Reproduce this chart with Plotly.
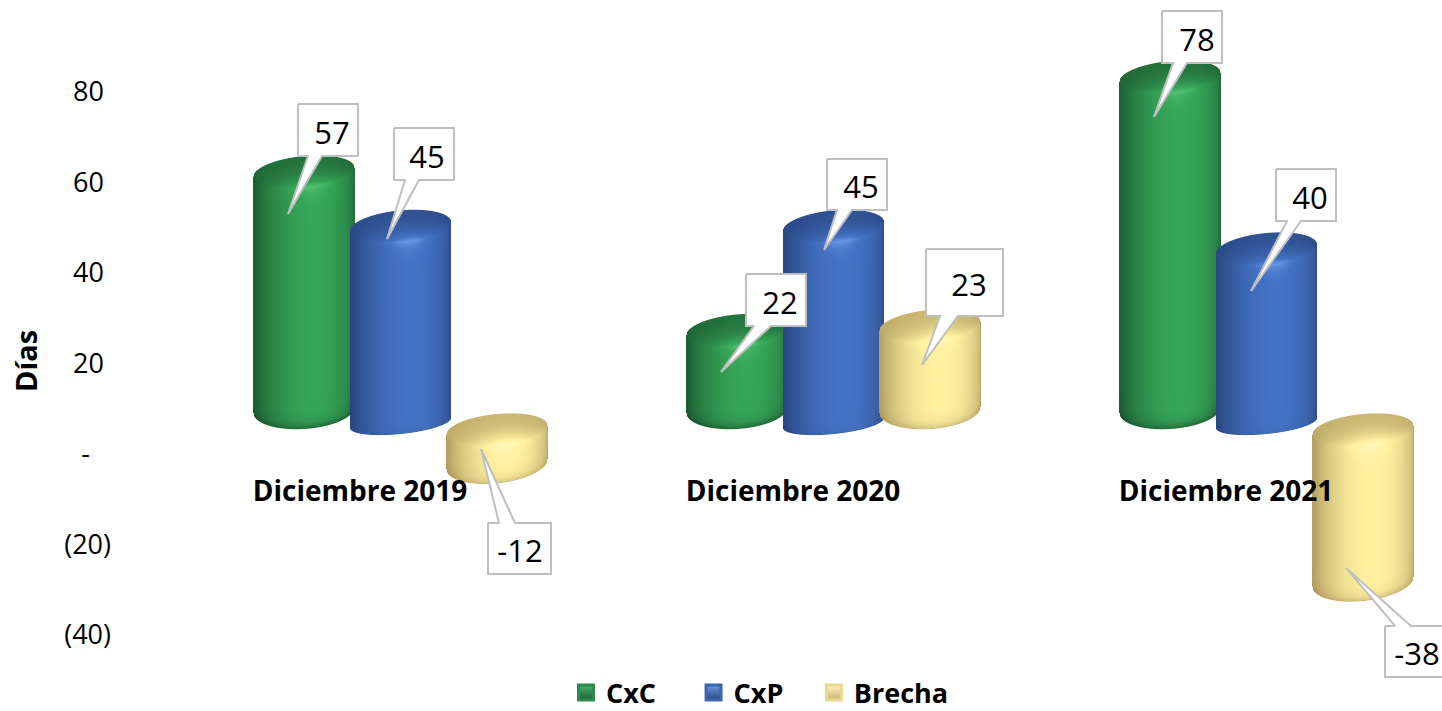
import numpy as np
import plotly.graph_objects as go

# ---- data ----
CATEGORIES = ["Diciembre 2019", "Diciembre 2020", "Diciembre 2021"]
CXC = [57, 22, 78]
CXP = [45, 45, 40]
BRECHA = [-12, 23, -38]
SERIES_NAMES = ["CxC", "CxP", "Brecha"]
Y_TICKS = [80, 60, 40, 20, 0, -20, -40]
Y_TICK_LABELS = ["80\u00a0", "60\u00a0", "40\u00a0", "20\u00a0", "-\u00a0\u00a0\u00a0", "(20)", "(40)"]

# ---- scale of the chart ----
W, H = 1442, 711
PX_X = 433.0      # pixels per category
PX_Y = 4.525      # pixels per value unit
X0_PX = 400.5     # pixel of category 0 centre
Y0_PX = 454.0     # pixel of value 0
LEFT = 112


def xd(px):
    return (np.asarray(px, dtype=float) - X0_PX) / PX_X


def yd(py):
    return (Y0_PX - np.asarray(py, dtype=float)) / PX_Y


# ---- styling ----
FONT = "Open Sans"
SERIES_OFFSET = [-96.5, 0.0, 96.5]
RADIUS = 50.5
STOPS = [
    [(18, 66, 36), (54, 165, 88), (96, 205, 128)],
    [(28, 52, 100), (68, 114, 196), (118, 166, 238)],
    [(150, 128, 72), (255, 241, 160), (255, 248, 196)],
]
BOTTOM_DARK = [0.62, 0.08, 0.42]
TOP_PLANE = 430.0
POS_BASE = [(410.0, 19.0, 3.0), (423.0, 11.0, 5.0), (410.0, 19.0, 3.0)]
NEG_BASE = 410.0
# spaces that set the gap after each legend entry
LEGEND_PAD = ["\u00a0\u00a0\u00a0\u00a0\u2009", "\u00a0\u00a0\u00a0\u2009", ""]


def colorscale(st):
    zmax = 2.3
    dark, body, hi = st
    rgb = lambda c: "rgb(%d,%d,%d)" % c
    edge = tuple(int(a * 0.55 + b * 0.45) for a, b in zip(dark, body))
    return [
        [0.0, "rgba(%d,%d,%d,0)" % edge],
        [1.0 / zmax, "rgba(%d,%d,%d,1)" % edge],
        [1.0 / zmax + 1e-6, rgb(dark)],
        [2.0 / zmax, rgb(body)],
        [1.0, rgb(hi)],
    ]


def shade_u(u):
    th = np.arcsin(np.clip(u, -1, 1)) - np.arcsin(0.2)
    return 0.3 + 0.7 * np.clip(np.cos(th), 0, 1) ** 1.4


def cylinder(cx, y_top, y_bot, b_top, tilt_top, b_bot, tilt_bot, bot_dark):
    x_px = np.arange(np.floor(cx - RADIUS), np.ceil(cx + RADIUS)) + 0.5
    y_px = np.arange(np.floor(y_top - b_top - 8), np.ceil(y_bot + b_bot + 8)) + 0.5
    X, Y = np.meshgrid(x_px, y_px)
    u = np.clip((X - cx) / RADIUS, -1, 1)
    rt = np.sqrt(1 - u ** 2)
    inside = np.abs((X - cx) / RADIUS) <= 1
    top_mid = y_top - tilt_top * u
    top_back = top_mid - b_top * rt
    top_front = top_mid + b_top * rt
    bot_edge = y_bot - tilt_bot * u + b_bot * rt
    cover = np.clip(np.minimum(Y + 0.5 - top_back, bot_edge - (Y - 0.5)), 0, 1)
    h = shade_u(u)
    edge_val = h * (1.0 + 0.22 * np.exp(-((u - 0.12) / 0.45) ** 2))
    t = np.clip((Y - top_mid) / np.maximum(b_top * rt, 0.5), -1, 1)
    back = 0.5 * (0.65 + 0.35 * h)
    face = back + (edge_val - back) * ((t + 1) / 2) ** 2.2
    below = h + (edge_val - h) * np.exp(-np.clip(Y - top_front, 0, None) / 7.0)
    s = np.where(Y < top_front, face, below)
    s = s * (1 - bot_dark * np.exp(-np.clip(bot_edge - Y, 0, None) / 5.0))
    z = np.where(cover >= 1, 1.0 + np.clip(s, 0, 1.3), cover)
    z = np.where(inside & (cover > 0), z, np.nan)
    return x_px, y_px, z


fig = go.Figure()
VALUES = [CXC, CXP, BRECHA]

anchors = {}
for si, vals in enumerate(VALUES):
    for ci, v in enumerate(vals):
        cx = X0_PX + ci * PX_X + SERIES_OFFSET[si]
        if v >= 0:
            y_top = TOP_PLANE - v * PX_Y
            y_bot, b_bot, tilt_bot = POS_BASE[si]
            end = y_top
        else:
            y_top = TOP_PLANE
            y_bot = NEG_BASE - v * PX_Y
            b_bot, tilt_bot = 19.0, 5.0
            end = y_bot
        anchors[(si, ci)] = (cx, end)
        xp, yp, z = cylinder(cx, y_top, y_bot, 16.0, 4.5, b_bot, tilt_bot, BOTTOM_DARK[si])
        fig.add_trace(go.Heatmap(
            x=xd(xp), y=yd(yp), z=z, zmin=0, zmax=2.3, colorscale=colorscale(STOPS[si]),
            showscale=False, hoverinfo="skip", zsmooth=False, name=SERIES_NAMES[si],
        ))

# callout geometry: (tip dx, tip dy, box dx, box dy, box w, box h, base l, base r, text dx)
# all offsets in pixels, relative to the end of the cylinder
CALLOUTS = {
    (0, 0): (-16, 41.9, -6, -68, 60, 52, 10, 24, 34),
    (1, 0): (-13.5, 12.6, -6.5, -98.4, 60, 52, 11, 25, 33),
    (2, 0): (-16, -15.3, -9, 58.7, 63, 51, 11, 27, 32),
    (0, 1): (-16, 41.5, 9, -56.5, 60, 52, 8, 25, 34),
    (1, 1): (-9.5, 23.6, -6.5, -67.4, 60, 51, 10, 25, 34),
    (2, 1): (-8, 39.1, -4, -76.9, 77, 67, 14, 32, 43),
    (0, 2): (-16, 40, -8, -66, 60, 52, 11, 25, 35),
    (1, 2): (-15.5, 42, 9.5, -80, 60, 52, 11, 25, 34),
    (2, 2): (-17, -14, 22, 44, 60, 51, 10, 26, 32),
}

lx, ly, lt = [], [], []
for (si, ci), (tdx, tdy, bdx, bdy, bw, bh, bl, br, txt) in CALLOUTS.items():
    cx, end = anchors[(si, ci)]
    L, T = cx + bdx, end + bdy
    R, B = L + bw, T + bh
    tip = (cx + tdx, end + tdy)
    if tdy > bdy:   # pointer leaves from the bottom edge
        px = [L, R, R, L + br, tip[0], L + bl, L, L]
        py = [T, T, B, B, tip[1], B, B, T]
    else:           # pointer leaves from the top edge
        px = [L, L + bl, tip[0], L + br, R, R, L, L]
        py = [T, T, tip[1], T, T, B, B, T]
    fig.add_trace(go.Scatter(
        x=xd(px), y=yd(py), mode="lines", fill="toself", fillcolor="white",
        line=dict(color="#BFBFBF", width=2), hoverinfo="skip", showlegend=False,
    ))
    lx.append(float(xd(L + txt)))
    ly.append(float(yd(T + bh / 2 + 6)))
    lt.append(str(VALUES[si][ci]))

fig.add_trace(go.Scatter(
    x=lx, y=ly, text=lt, mode="text", textposition="middle center",
    textfont=dict(family=FONT, size=31, color="black"), hoverinfo="skip", showlegend=False,
))

LEGEND_TOP = ["#4BB36F", "#6A97DC", "#FFF6C0"]
LEGEND_BOT = ["#1B5E32", "#2A4A88", "#C8B070"]
LEGEND_LINE = ["#2C8A4C", "#3C66B0", "#E8D890"]
for si, nm in enumerate(SERIES_NAMES):
    fig.add_trace(go.Scatter(
        x=[None], y=[None], mode="markers", name=nm + LEGEND_PAD[si],
        marker=dict(symbol="square", size=15, color=LEGEND_TOP[si],
                    gradient=dict(type="vertical", color=LEGEND_BOT[si]),
                    line=dict(width=3, color=LEGEND_LINE[si])),
    ))

fig.update_layout(
    width=W, height=H, margin=dict(l=LEFT, r=0, t=0, b=0, pad=0, autoexpand=False),
    paper_bgcolor="white", plot_bgcolor="white",
    font=dict(family=FONT, color="black"),
    xaxis=dict(
        range=[float(xd(LEFT)), float(xd(W))], showgrid=False, zeroline=False, showline=False,
        ticks="", tickmode="array",
        tickvals=[float(xd(360 + i * PX_X)) for i in range(len(CATEGORIES))],
        ticktext=CATEGORIES, anchor="free", position=1 - 472 / H,
        tickfont=dict(family=FONT, size=28, weight="bold", color="black"),
    ),
    yaxis=dict(
        range=[float(yd(H)), float(yd(0))], showgrid=False, zeroline=False, showline=False,
        ticks="", tickmode="array", tickvals=Y_TICKS, ticktext=Y_TICK_LABELS,
        tickfont=dict(family=FONT, size=27, color="black"), automargin=False,
    ),
    annotations=[dict(
        text="Días", xref="paper", yref="paper", x=(25 - LEFT) / (W - LEFT), y=1 - 361 / H,
        xanchor="center", yanchor="middle", textangle=-90, showarrow=False,
        font=dict(family=FONT, size=29, weight="bold", color="black"),
    )],
    legend=dict(
        orientation="h", x=(577 - 11 - LEFT) / (W - LEFT), y=(711 - 693) / H, xanchor="left", yanchor="middle",
        font=dict(family=FONT, size=27, weight="bold", color="black"),
        itemsizing="trace", bgcolor="rgba(0,0,0,0)",
    ),
)

fig.write_html("out.html", config=dict(displayModeBar=False),
               post_script="document.body.style.margin='0';document.documentElement.style.overflow='hidden';")
